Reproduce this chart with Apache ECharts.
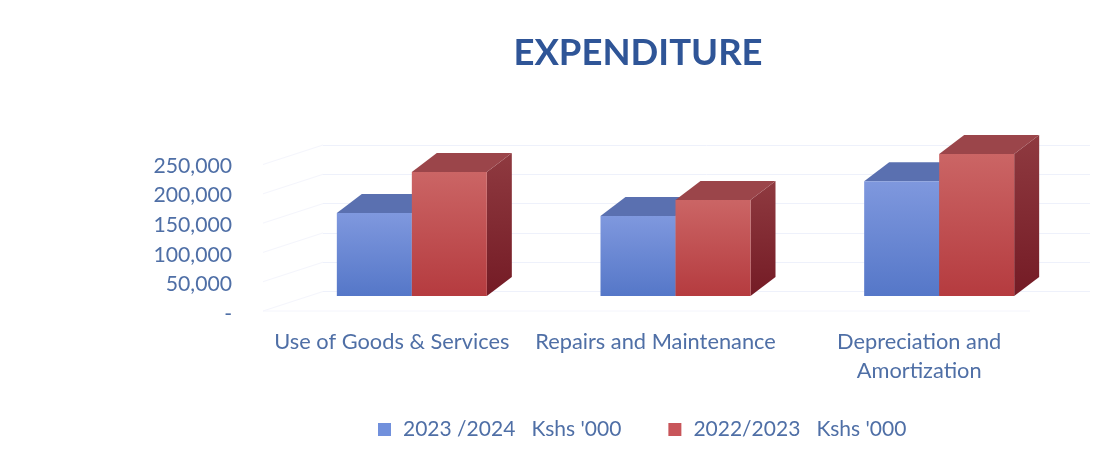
<!DOCTYPE html>
<html>
<head>
<meta charset="utf-8">
<style>
  html, body { margin: 0; padding: 0; background: #fff; }
  #chart { width: 1100px; height: 459px; }
</style>
<script src="https://cdn.jsdelivr.net/npm/echarts@6/dist/echarts.min.js"></script>
</head>
<body>
<div id="chart"></div>
<script>
const categories = ['Use of Goods & Services', 'Repairs and Maintenance', 'Depreciation and\nAmortization'];
const seriesNames = ["2023 /2024   Kshs '000", "2022/2023   Kshs '000"];
const values2023 = [140000, 135000, 194000];
const values2022 = [209500, 162000, 240000];
const yTicks = [0, 50000, 100000, 150000, 200000, 250000];
const yTickLabels = ['-', '50,000', '100,000', '150,000', '200,000', '250,000'];

const textColor = '#4f6fa6';
const gridColor = '#eef1fb';
const wallColor = '#f4f5fc';

// fake 3D depth, same look as the old Excel chart
const depthX = 25;
const depthY = 19;
const wallDepthX = 60;
const wallDepthY = 19.5;
const barWidth = 75;
const baseLift = 18;

const grad = (top, bottom) => new echarts.graphic.LinearGradient(0, 0, 0, 1, [
  { offset: 0, color: top },
  { offset: 1, color: bottom }
]);

const makeBar = (side, colors) => (params, api) => {
  const top = api.coord([api.value(0), api.value(1)]);
  const zero = api.coord([api.value(0), 0]);
  const x0 = top[0] + 20 + (side === 0 ? -barWidth : 0);
  const x1 = x0 + barWidth;
  const y0 = top[1] - baseLift;
  const y1 = zero[1] - baseLift;
  const poly = (points, fill) => ({ type: 'polygon', shape: { points }, style: { fill } });
  return {
    type: 'group',
    children: [
      poly([[x1, y0], [x1 + depthX, y0 - depthY], [x1 + depthX, y1 - depthY], [x1, y1]], grad(colors.side[0], colors.side[1])),
      poly([[x0, y0], [x0 + depthX, y0 - depthY], [x1 + depthX, y0 - depthY], [x1, y0]], colors.top),
      poly([[x0, y0], [x1, y0], [x1, y1], [x0, y1]], grad(colors.front[0], colors.front[1]))
    ]
  };
};

const blueColors = { front: ['#7f98de', '#5577c8'], top: '#5a70b0', side: ['#4d619c', '#3d5288'] };
const redColors = { front: ['#cb6565', '#b53b3f'], top: '#9b454a', side: ['#8f3a40', '#741b25'] };

// side wall diagonals and floor edge, drawn on the back wall axes
const renderWall = (params, api) => {
  const p = api.coord([0, api.value(0)]);
  const children = [{
    type: 'line',
    shape: { x1: p[0], y1: p[1], x2: p[0] - wallDepthX, y2: p[1] + wallDepthY },
    style: { stroke: wallColor, lineWidth: 1 }
  }];
  if (api.value(0) === 0) {
    const end = api.coord([1, 0]);
    children.push({
      type: 'line',
      shape: { x1: p[0] - wallDepthX, y1: p[1] + wallDepthY, x2: end[0] - wallDepthX, y2: end[1] + wallDepthY },
      style: { stroke: wallColor, lineWidth: 1 }
    });
  }
  return { type: 'group', children };
};

const chart = echarts.init(document.getElementById('chart'));
chart.setOption({
  animation: false,
  backgroundColor: '#fff',
  textStyle: { fontFamily: 'Lato' },
  title: {
    text: 'EXPENDITURE',
    left: 633,
    textAlign: 'center',
    top: 30,
    textStyle: { fontFamily: 'Lato', fontSize: 36.5, fontWeight: 'bold', color: '#2f5597' }
  },
  legend: {
    left: 373,
    top: 414,
    itemWidth: 13,
    itemHeight: 13,
    itemGap: 47,
    icon: 'rect',
    data: [
      { name: seriesNames[0], itemStyle: { color: '#7190dc' } },
      { name: seriesNames[1], itemStyle: { color: '#c8555a' } }
    ],
    textStyle: { fontFamily: 'Lato', fontSize: 21, color: textColor, padding: [0, 0, 0, 7] }
  },
  grid: [
    { left: 260, width: 791, top: 166, height: 148 },
    { left: 323, width: 767, top: 145, height: 146.5 }
  ],
  xAxis: [
    {
      type: 'category',
      gridIndex: 0,
      data: categories,
      axisLine: { show: false },
      axisTick: { show: false },
      axisLabel: { color: textColor, fontSize: 21.8, lineHeight: 29, margin: 13, interval: 0 }
    },
    { type: 'value', gridIndex: 1, min: 0, max: 1, show: false }
  ],
  yAxis: [
    {
      type: 'value',
      gridIndex: 0,
      min: 0,
      max: 250000,
      interval: 50000,
      axisLine: { show: false },
      axisTick: { show: false },
      splitLine: { show: false },
      axisLabel: {
        color: textColor,
        fontSize: 21.2,
        margin: 28,
        formatter: (v) => yTickLabels[yTicks.indexOf(v)]
      }
    },
    {
      type: 'value',
      gridIndex: 1,
      min: 0,
      max: 250000,
      interval: 50000,
      axisLine: { show: false },
      axisTick: { show: false },
      axisLabel: { show: false },
      splitLine: { show: true, lineStyle: { color: gridColor, width: 1 } }
    }
  ],
  series: [
    {
      name: 'wall',
      type: 'custom',
      xAxisIndex: 1,
      yAxisIndex: 1,
      z: 1,
      clip: false,
      silent: true,
      renderItem: renderWall,
      encode: { y: 0 },
      data: yTicks.map((v) => [v])
    },
    {
      name: seriesNames[0],
      type: 'custom',
      z: 2,
      clip: false,
      renderItem: makeBar(0, blueColors),
      encode: { x: 0, y: 1 },
      data: values2023.map((v, i) => [i, v])
    },
    {
      name: seriesNames[1],
      type: 'custom',
      z: 3,
      clip: false,
      renderItem: makeBar(1, redColors),
      encode: { x: 0, y: 1 },
      data: values2022.map((v, i) => [i, v])
    }
  ]
});
</script>
</body>
</html>
